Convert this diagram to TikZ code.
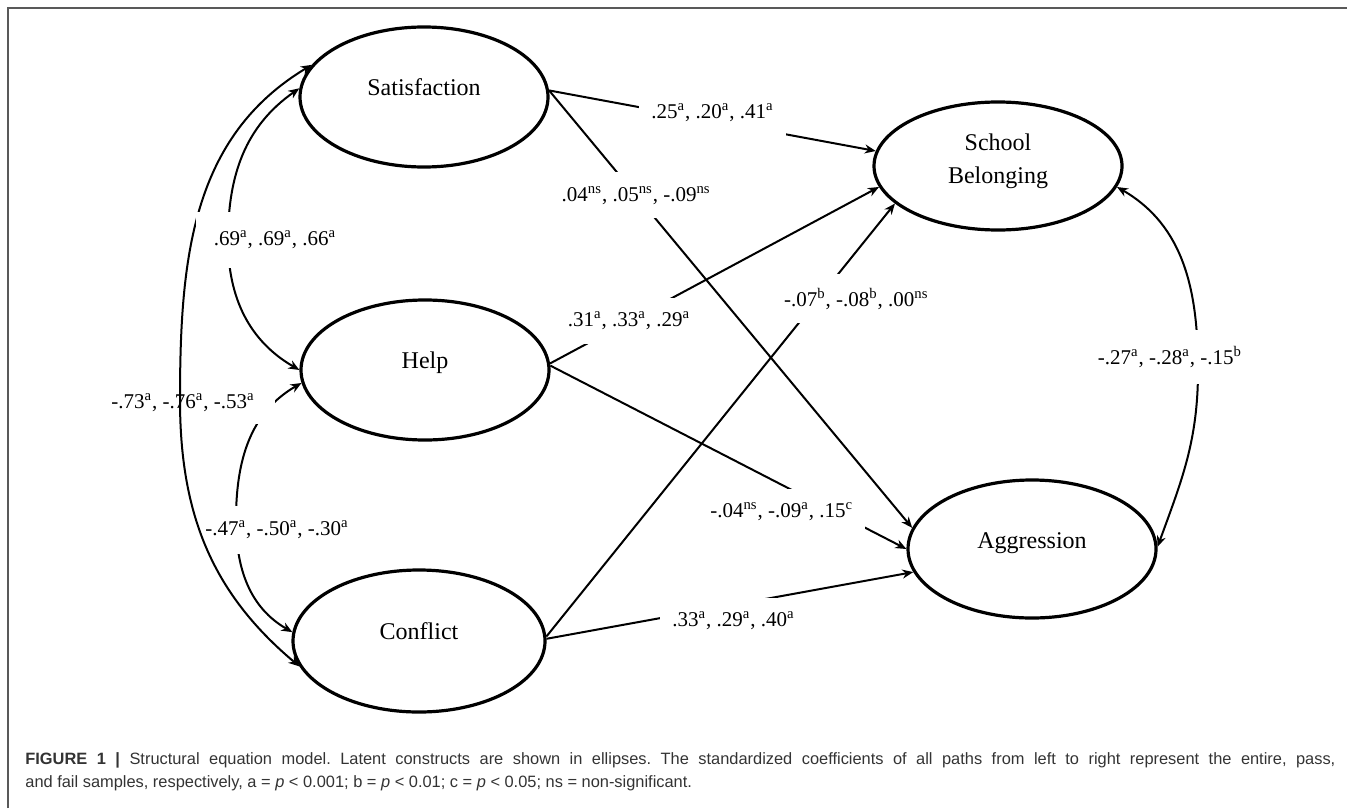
\documentclass[tikz,border=0pt]{standalone}
\usepackage{fontspec}
\setmainfont{Liberation Serif}
\setsansfont{Liberation Sans}
\usetikzlibrary{arrows.meta,shapes.geometric}

\tikzset{
  latent/.style={ellipse, draw, line width=1.6pt, minimum width=124pt, minimum height=70pt, inner sep=0pt},
  nametext/.style={font=\fontsize{12}{16.5}\selectfont, yshift=5pt},
  coef/.style={fill=white, font=\fontsize{10.5}{12}\selectfont, inner xsep=6pt, inner ysep=7pt},
  arr/.style={line width=1pt, -{Stealth[length=5.5pt,width=4.5pt]}},
  cov/.style={line width=1pt, {Stealth[length=5.5pt,width=4.5pt]}-{Stealth[length=5.5pt,width=4.5pt]}},
  caption/.style={font=\sffamily\fontsize{8.2}{11.5}\selectfont\frenchspacing, text=black!80, text width=655pt, align=justify, inner sep=0pt}
}

\begin{document}
\begin{tikzpicture}[x=0.5pt, y=0.5pt]
\useasboundingbox (0,0) rectangle (1347,-808);

% 外框
\draw[black!65, line width=1pt] (8,-808) -- (8,-8) -- (1347,-8);

% 潜变量(椭圆)
\node[latent, label={[nametext]center:Satisfaction}] (sat) at (424,-97) {};
\node[latent, label={[nametext, yshift=-1.5pt]center:Help}] (help) at (425,-370) {};
\node[latent, minimum width=126pt, minimum height=71pt, label={[nametext]center:Conflict}] (conf) at (419,-641) {};
\node[latent, minimum height=64pt, label={[nametext, align=center, yshift=-2.5pt]center:School\\Belonging}] (sb) at (998,-166) {};
\node[latent, minimum height=69pt, label={[nametext, yshift=-2pt]center:Aggression}] (agg) at (1032,-549) {};

% 左侧相关(双箭头)
\draw[cov] (sat.176) to[out=215, in=90] (228,-240) to[out=-90, in=150] (help.180);
\draw[cov] (help.186) to[out=210, in=90] (236,-520) to[out=-90, in=150] (conf.176);
\node[coef, inner xsep=10pt, inner ysep=6pt] (l73) at (183,-403) {-.73\textsuperscript{a}, -.76\textsuperscript{a}, -.53\textsuperscript{a}};
\node[coef, inner ysep=7.5pt] (l47) at (277,-530) {-.47\textsuperscript{a}, -.50\textsuperscript{a}, -.30\textsuperscript{a}};
\draw[cov] (sat.164) to[out=211, in=90] (180,-400) to[out=-90, in=140] (conf.192);
\node[coef, inner xsep=9pt, inner ysep=9.5pt] (l69) at (275,-240) {.69\textsuperscript{a}, .69\textsuperscript{a}, .66\textsuperscript{a}};

% 路径系数
\draw[arr] (sat.3) -- (sb.173) node[coef, pos=.5, yshift=4pt] (l25) {.25\textsuperscript{a}, .20\textsuperscript{a}, .41\textsuperscript{a}};
\draw[arr] (sat.3) -- (agg.170) node[coef, pos=.24] (l04) {.04\textsuperscript{ns}, .05\textsuperscript{ns}, -.09\textsuperscript{ns}};
\draw[arr] (help.3) -- (sb.190) node[coef, pos=.24] (l31) {.31\textsuperscript{a}, .33\textsuperscript{a}, .29\textsuperscript{a}};
\draw[arr] (help.2) -- (agg.180) node[coef, pos=.65, yshift=-13.5pt] (l04b) {-.04\textsuperscript{ns}, -.09\textsuperscript{a}, .15\textsuperscript{c}};
\draw[arr] (conf.2) -- (sb.200) node[coef, pos=.78, xshift=19pt] (l07) {-.07\textsuperscript{b}, -.08\textsuperscript{b}, .00\textsuperscript{ns}};
\draw[arr] (conf.1) -- (agg.191) node[coef, pos=.51, yshift=-8pt] (l33) {.33\textsuperscript{a}, .29\textsuperscript{a}, .40\textsuperscript{a}};

% 右侧相关
\draw[cov] (sb.350) to[out=-30, in=90] (1198,-370) to[out=-90, in=70] (agg.1);
\node[coef, inner ysep=8pt] (l27) at (1170,-357) {-.27\textsuperscript{a}, -.28\textsuperscript{a}, -.15\textsuperscript{b}};

% 图注
\node[caption, anchor=north west] (cap) at (25,-752) {\textbf{FIGURE 1 |} Structural equation model. Latent constructs are shown in ellipses. The standardized coefficients of all paths from left to right represent the entire, pass,\linebreak and fail samples, respectively, a = \textit{p} < 0.001; b = \textit{p} < 0.01; c = \textit{p} < 0.05; ns = non-significant.};
\end{tikzpicture}
\end{document}
